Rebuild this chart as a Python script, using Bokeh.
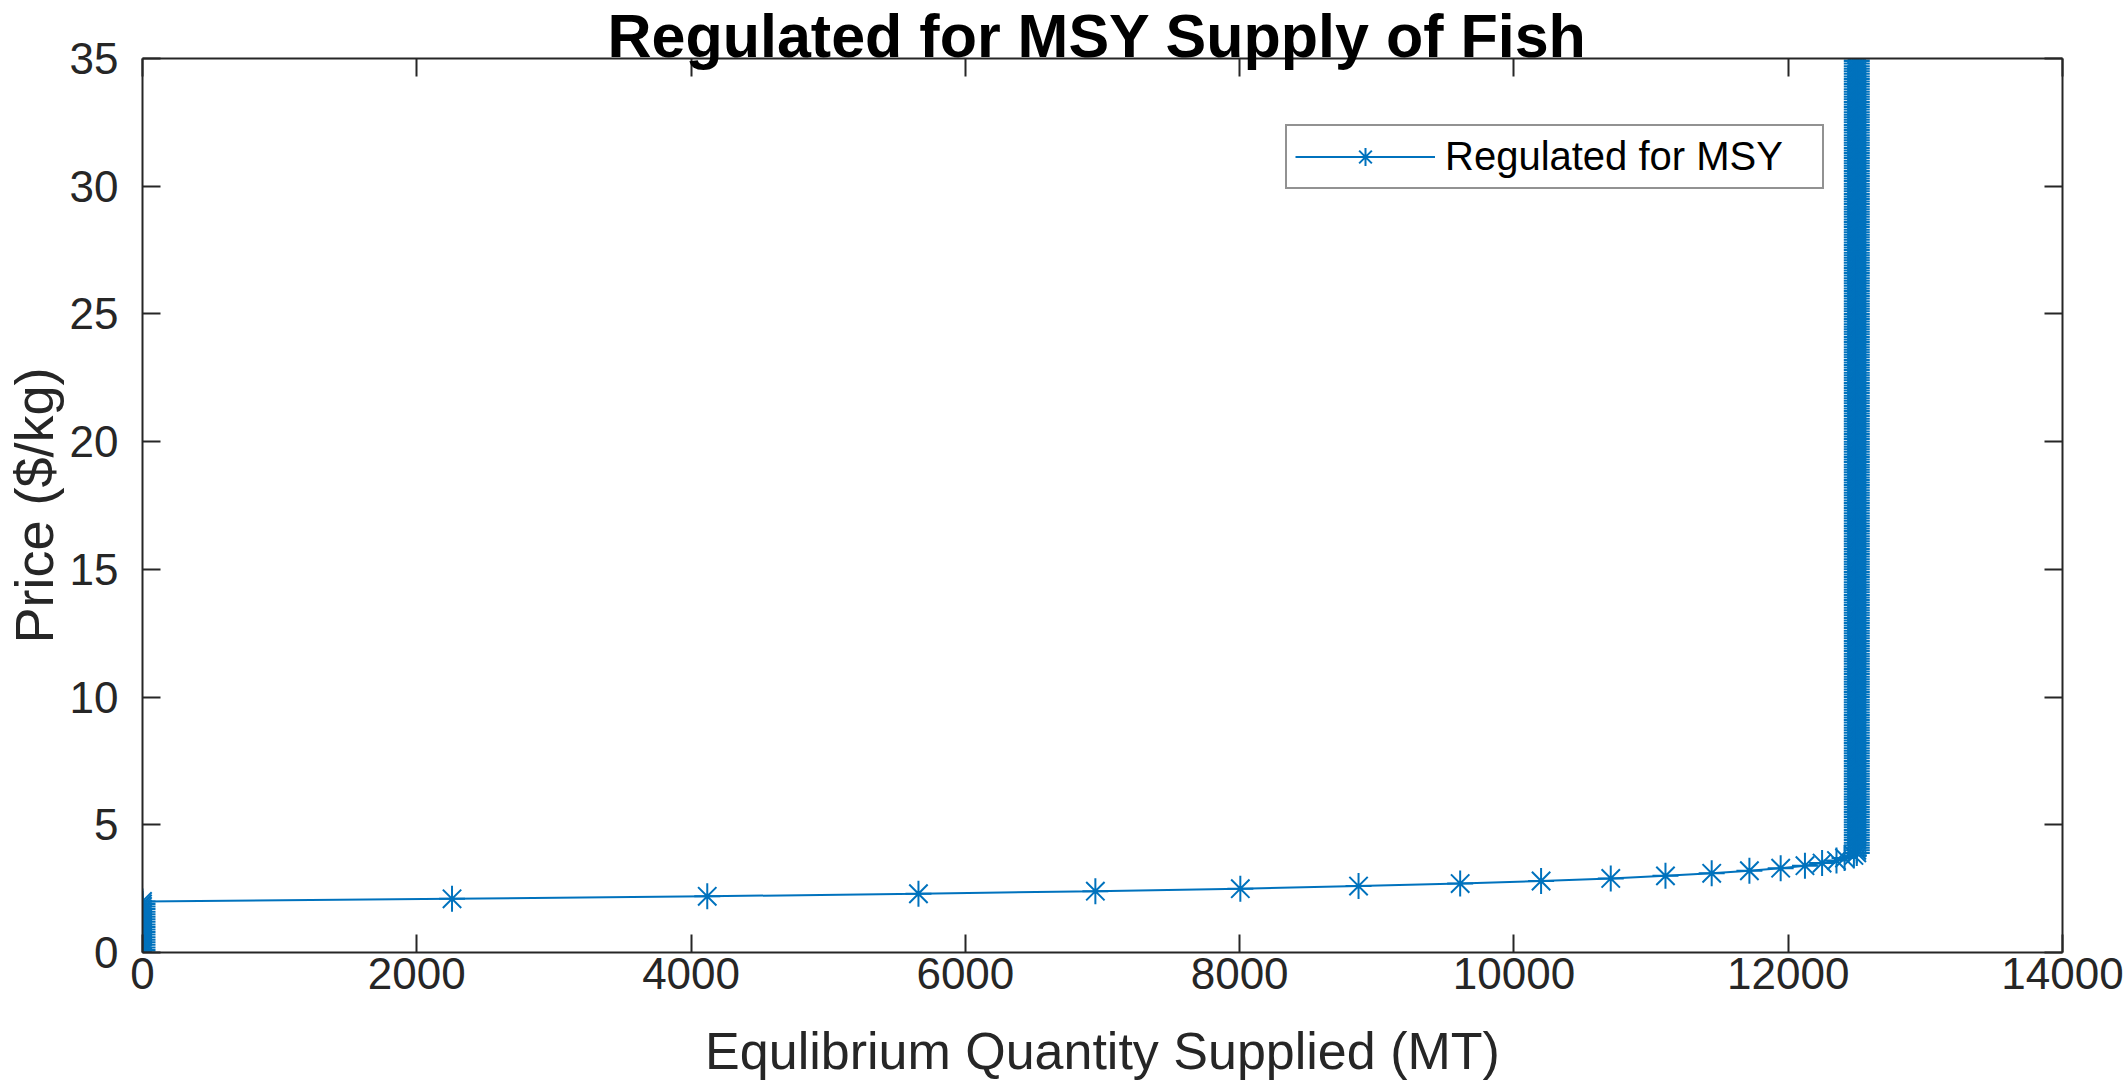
from bokeh.plotting import figure
from bokeh.models import (Range1d, FixedTicker, LinearAxis, Legend, LegendItem,
                          ColumnDataSource)
from bokeh.embed import file_html
from bokeh.resources import INLINE

# ---------------- data ----------------
title_text = "Regulated for MSY Supply of Fish"
x_label = "Equlibrium Quantity Supplied (MT)"
y_label = "Price ($/kg)"
series_name = "Regulated for MSY"

x_ticks = [0, 2000, 4000, 6000, 8000, 10000, 12000, 14000]
y_ticks = [0, 5, 10, 15, 20, 25, 30, 35]

# prices at which nothing is supplied (stack of markers at Q = 0)
price_low = [0.0, 0.1, 0.2, 0.3, 0.4, 0.5, 0.6, 0.7, 0.8, 0.9,
             1.0, 1.1, 1.2, 1.3, 1.4, 1.5, 1.6, 1.7, 1.8, 1.9,
             2.0]
qty_low = [0, 0, 0, 0, 0, 0, 0, 0, 0, 0,
           0, 0, 0, 0, 0, 0, 0, 0, 0, 0,
           0]

# rising part of the supply curve
price_mid = [2.1, 2.2, 2.3, 2.4, 2.5, 2.6, 2.7, 2.8, 2.9, 3.0,
             3.1, 3.2, 3.3, 3.4, 3.5, 3.6, 3.7, 3.8]
qty_mid = [2257, 4118, 5658, 6948, 8005, 8867, 9608, 10198, 10706, 11105,
           11442, 11717, 11945, 12122, 12247, 12352, 12411, 12479]

# prices at which supply is capped at MSY (vertical stack of markers)
price_high = [
    3.9,
    4.0, 4.1, 4.2, 4.3, 4.4, 4.5, 4.6, 4.7, 4.8, 4.9,
    5.0, 5.1, 5.2, 5.3, 5.4, 5.5, 5.6, 5.7, 5.8, 5.9,
    6.0, 6.1, 6.2, 6.3, 6.4, 6.5, 6.6, 6.7, 6.8, 6.9,
    7.0, 7.1, 7.2, 7.3, 7.4, 7.5, 7.6, 7.7, 7.8, 7.9,
    8.0, 8.1, 8.2, 8.3, 8.4, 8.5, 8.6, 8.7, 8.8, 8.9,
    9.0, 9.1, 9.2, 9.3, 9.4, 9.5, 9.6, 9.7, 9.8, 9.9,
    10.0, 10.1, 10.2, 10.3, 10.4, 10.5, 10.6, 10.7, 10.8, 10.9,
    11.0, 11.1, 11.2, 11.3, 11.4, 11.5, 11.6, 11.7, 11.8, 11.9,
    12.0, 12.1, 12.2, 12.3, 12.4, 12.5, 12.6, 12.7, 12.8, 12.9,
    13.0, 13.1, 13.2, 13.3, 13.4, 13.5, 13.6, 13.7, 13.8, 13.9,
    14.0, 14.1, 14.2, 14.3, 14.4, 14.5, 14.6, 14.7, 14.8, 14.9,
    15.0, 15.1, 15.2, 15.3, 15.4, 15.5, 15.6, 15.7, 15.8, 15.9,
    16.0, 16.1, 16.2, 16.3, 16.4, 16.5, 16.6, 16.7, 16.8, 16.9,
    17.0, 17.1, 17.2, 17.3, 17.4, 17.5, 17.6, 17.7, 17.8, 17.9,
    18.0, 18.1, 18.2, 18.3, 18.4, 18.5, 18.6, 18.7, 18.8, 18.9,
    19.0, 19.1, 19.2, 19.3, 19.4, 19.5, 19.6, 19.7, 19.8, 19.9,
    20.0, 20.1, 20.2, 20.3, 20.4, 20.5, 20.6, 20.7, 20.8, 20.9,
    21.0, 21.1, 21.2, 21.3, 21.4, 21.5, 21.6, 21.7, 21.8, 21.9,
    22.0, 22.1, 22.2, 22.3, 22.4, 22.5, 22.6, 22.7, 22.8, 22.9,
    23.0, 23.1, 23.2, 23.3, 23.4, 23.5, 23.6, 23.7, 23.8, 23.9,
    24.0, 24.1, 24.2, 24.3, 24.4, 24.5, 24.6, 24.7, 24.8, 24.9,
    25.0, 25.1, 25.2, 25.3, 25.4, 25.5, 25.6, 25.7, 25.8, 25.9,
    26.0, 26.1, 26.2, 26.3, 26.4, 26.5, 26.6, 26.7, 26.8, 26.9,
    27.0, 27.1, 27.2, 27.3, 27.4, 27.5, 27.6, 27.7, 27.8, 27.9,
    28.0, 28.1, 28.2, 28.3, 28.4, 28.5, 28.6, 28.7, 28.8, 28.9,
    29.0, 29.1, 29.2, 29.3, 29.4, 29.5, 29.6, 29.7, 29.8, 29.9,
    30.0, 30.1, 30.2, 30.3, 30.4, 30.5, 30.6, 30.7, 30.8, 30.9,
    31.0, 31.1, 31.2, 31.3, 31.4, 31.5, 31.6, 31.7, 31.8, 31.9,
    32.0, 32.1, 32.2, 32.3, 32.4, 32.5, 32.6, 32.7, 32.8, 32.9,
    33.0, 33.1, 33.2, 33.3, 33.4, 33.5, 33.6, 33.7, 33.8, 33.9,
    34.0, 34.1, 34.2, 34.3, 34.4, 34.5, 34.6, 34.7, 34.8, 34.9,
    35.0,
]
qty_high = [
    12500,
    12500, 12500, 12500, 12500, 12500, 12500, 12500, 12500, 12500, 12500,
    12500, 12500, 12500, 12500, 12500, 12500, 12500, 12500, 12500, 12500,
    12500, 12500, 12500, 12500, 12500, 12500, 12500, 12500, 12500, 12500,
    12500, 12500, 12500, 12500, 12500, 12500, 12500, 12500, 12500, 12500,
    12500, 12500, 12500, 12500, 12500, 12500, 12500, 12500, 12500, 12500,
    12500, 12500, 12500, 12500, 12500, 12500, 12500, 12500, 12500, 12500,
    12500, 12500, 12500, 12500, 12500, 12500, 12500, 12500, 12500, 12500,
    12500, 12500, 12500, 12500, 12500, 12500, 12500, 12500, 12500, 12500,
    12500, 12500, 12500, 12500, 12500, 12500, 12500, 12500, 12500, 12500,
    12500, 12500, 12500, 12500, 12500, 12500, 12500, 12500, 12500, 12500,
    12500, 12500, 12500, 12500, 12500, 12500, 12500, 12500, 12500, 12500,
    12500, 12500, 12500, 12500, 12500, 12500, 12500, 12500, 12500, 12500,
    12500, 12500, 12500, 12500, 12500, 12500, 12500, 12500, 12500, 12500,
    12500, 12500, 12500, 12500, 12500, 12500, 12500, 12500, 12500, 12500,
    12500, 12500, 12500, 12500, 12500, 12500, 12500, 12500, 12500, 12500,
    12500, 12500, 12500, 12500, 12500, 12500, 12500, 12500, 12500, 12500,
    12500, 12500, 12500, 12500, 12500, 12500, 12500, 12500, 12500, 12500,
    12500, 12500, 12500, 12500, 12500, 12500, 12500, 12500, 12500, 12500,
    12500, 12500, 12500, 12500, 12500, 12500, 12500, 12500, 12500, 12500,
    12500, 12500, 12500, 12500, 12500, 12500, 12500, 12500, 12500, 12500,
    12500, 12500, 12500, 12500, 12500, 12500, 12500, 12500, 12500, 12500,
    12500, 12500, 12500, 12500, 12500, 12500, 12500, 12500, 12500, 12500,
    12500, 12500, 12500, 12500, 12500, 12500, 12500, 12500, 12500, 12500,
    12500, 12500, 12500, 12500, 12500, 12500, 12500, 12500, 12500, 12500,
    12500, 12500, 12500, 12500, 12500, 12500, 12500, 12500, 12500, 12500,
    12500, 12500, 12500, 12500, 12500, 12500, 12500, 12500, 12500, 12500,
    12500, 12500, 12500, 12500, 12500, 12500, 12500, 12500, 12500, 12500,
    12500, 12500, 12500, 12500, 12500, 12500, 12500, 12500, 12500, 12500,
    12500, 12500, 12500, 12500, 12500, 12500, 12500, 12500, 12500, 12500,
    12500, 12500, 12500, 12500, 12500, 12500, 12500, 12500, 12500, 12500,
    12500, 12500, 12500, 12500, 12500, 12500, 12500, 12500, 12500, 12500,
    12500,
]

price = price_low + price_mid + price_high
quantity = qty_low + qty_mid + qty_high

# ---------------- styling ----------------
BLUE = "#0072BD"
AXIS = "#262626"
FONT = "Liberation Sans"

W, H = 2127, 1082
LEFT, RIGHT, TOP, BOTTOM = 141, 65, 58, 129

p = figure(width=W, height=H,
           x_range=Range1d(0, 14000), y_range=Range1d(0, 35),
           output_backend="svg", toolbar_location=None,
           min_border_left=LEFT, min_border_right=RIGHT,
           min_border_top=TOP, min_border_bottom=BOTTOM,
           background_fill_color="white", border_fill_color="white",
           outline_line_color=None)
p.grid.visible = False

p.title.text = title_text
p.title.text_font = FONT
p.title.text_font_size = "61px"
p.title.text_font_style = "bold"
p.title.text_color = "black"
p.title.align = "left"
p.title.offset = 465
p.title.standoff = -22

src = ColumnDataSource(dict(q=quantity, p=price))
line_r = p.line("q", "p", source=src, line_color=BLUE, line_width=2)
mark_r = p.scatter("q", "p", source=src, marker="asterisk", size=26,
                   line_color=BLUE, line_width=2)


def style_axis(ax, labels=True):
    ax.axis_line_color = AXIS
    ax.axis_line_width = 2
    ax.major_tick_line_color = AXIS
    ax.major_tick_line_width = 2
    ax.major_tick_in = 18
    ax.major_tick_out = 0
    ax.minor_tick_line_color = None
    ax.major_label_text_font = FONT
    if labels:
        ax.major_label_text_font_size = "44px"
        ax.major_label_text_color = AXIS
    else:
        ax.major_label_text_font_size = "1px"
        ax.major_label_text_color = None
        ax.major_label_standoff = 0


xa = p.xaxis[0]
xa.ticker = FixedTicker(ticks=x_ticks)
style_axis(xa)
xa.major_label_standoff = 5
xa.axis_label = x_label
xa.axis_label_text_font = FONT
xa.axis_label_text_font_size = "52px"
xa.axis_label_text_font_style = "normal"
xa.axis_label_text_color = AXIS
xa.axis_label_standoff = 30

ya = p.yaxis[0]
ya.ticker = FixedTicker(ticks=y_ticks)
style_axis(ya)
ya.major_label_standoff = 24
ya.axis_label = y_label
ya.axis_label_text_font = FONT
ya.axis_label_text_font_size = "54px"
ya.axis_label_text_font_style = "normal"
ya.axis_label_text_color = AXIS
ya.axis_label_standoff = 3

top_ax = LinearAxis(ticker=FixedTicker(ticks=x_ticks))
style_axis(top_ax, labels=False)
p.add_layout(top_ax, "above")

right_ax = LinearAxis(ticker=FixedTicker(ticks=y_ticks))
style_axis(right_ax, labels=False)
p.add_layout(right_ax, "right")

legend = Legend(items=[LegendItem(label=series_name, renderers=[line_r, mark_r])],
                location=(1143, 763), margin=0, padding=8, spacing=0,
                glyph_width=140, glyph_height=45, label_standoff=10,
                label_width=369,
                label_text_font=FONT, label_text_font_size="40px",
                label_text_color="black", label_text_baseline="middle",
                border_line_color=AXIS, border_line_width=2,
                background_fill_color="white", background_fill_alpha=1.0)
p.add_layout(legend)

open("out.html", "w").write(file_html(p, INLINE))
